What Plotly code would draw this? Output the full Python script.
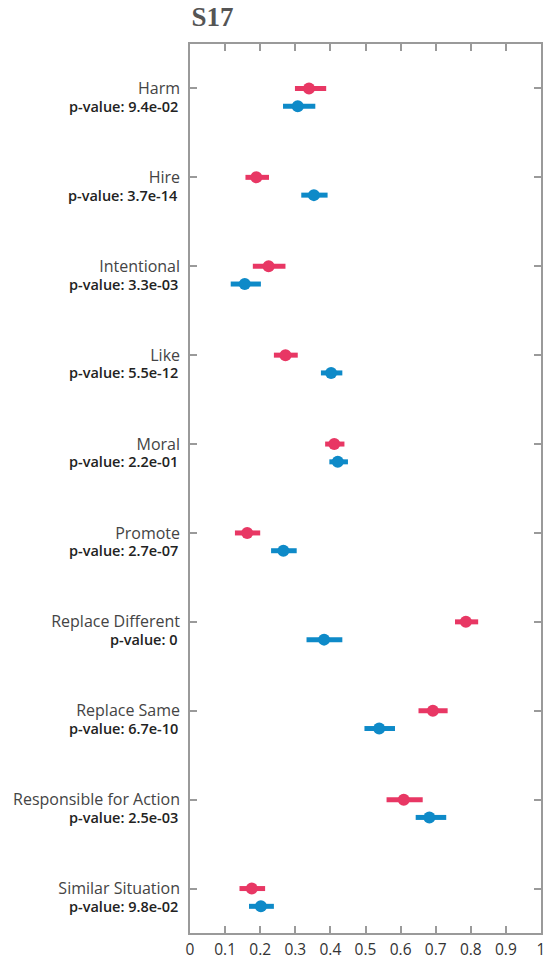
import plotly.graph_objects as go

categories = ["Harm", "Hire", "Intentional", "Like", "Moral", "Promote",
              "Replace Different", "Replace Same", "Responsible for Action",
              "Similar Situation"]
p_values = ["9.4e-02", "3.7e-14", "3.3e-03", "5.5e-12", "2.2e-01",
            "2.7e-07", "0", "6.7e-10", "2.5e-03", "9.8e-02"]

red_mean = [0.339, 0.189, 0.224, 0.272, 0.411, 0.163, 0.786, 0.692, 0.609, 0.176]
red_low = [0.299, 0.158, 0.179, 0.239, 0.385, 0.128, 0.755, 0.651, 0.560, 0.141]
red_high = [0.388, 0.225, 0.272, 0.307, 0.440, 0.200, 0.821, 0.734, 0.663, 0.214]

blue_mean = [0.307, 0.353, 0.156, 0.402, 0.421, 0.266, 0.382, 0.539, 0.682, 0.202]
blue_low = [0.265, 0.317, 0.116, 0.373, 0.397, 0.231, 0.332, 0.497, 0.643, 0.168]
blue_high = [0.357, 0.392, 0.202, 0.434, 0.450, 0.304, 0.434, 0.584, 0.730, 0.239]

x_ticks = [0, 0.1, 0.2, 0.3, 0.4, 0.5, 0.6, 0.7, 0.8, 0.9, 1]
x_ticktext = ["0", "0.1", "0.2", "0.3", "0.4", "0.5", "0.6", "0.7", "0.8", "0.9", "1"]

RED = "#E83764"
BLUE = "#0E8AC8"
OFFSET = 0.2

y_red = list(range(len(categories)))
y_blue = [i + OFFSET for i in y_red]

fig = go.Figure()


def add_series(means, lows, highs, ys, color):
    fig.add_trace(go.Scatter(
        x=means, y=ys, mode="markers",
        marker=dict(color=color, size=12, symbol="circle"),
        error_x=dict(type="data", symmetric=False,
                     array=[h - m for h, m in zip(highs, means)],
                     arrayminus=[m - l for m, l in zip(means, lows)],
                     color=color, thickness=5, width=0),
        showlegend=False, hoverinfo="x",
    ))


add_series(red_mean, red_low, red_high, y_red, RED)
add_series(blue_mean, blue_low, blue_high, y_blue, BLUE)

for i, p in enumerate(p_values):
    fig.add_annotation(
        x=0, xref="paper", y=i + OFFSET, yref="y",
        text=f"p-value: {p}", showarrow=False,
        xanchor="right", yanchor="middle", xshift=-10,
        font=dict(family="Open Sans", size=14.5, color="#222222", weight=600),
    )

fig.update_layout(
    width=547, height=961,
    margin=dict(l=190, r=6, t=44, b=28, autoexpand=False),
    paper_bgcolor="white", plot_bgcolor="white",
    title=dict(text="<b>S17</b>", x=0.004, xref="paper", xanchor="left",
               y=1 - 17 / 961, yref="container", yanchor="middle",
               font=dict(family="Liberation Serif", size=27, color="#555555")),
    xaxis=dict(range=[0, 1], tickvals=x_ticks, ticktext=x_ticktext,
               ticks="inside", ticklen=7, tickcolor="#9a9a9a", tickwidth=1.5,
               showline=True, linecolor="#9a9a9a", linewidth=1.5,
               mirror="allticks", showgrid=False, zeroline=False,
               automargin=False, ticklabeloverflow="allow",
               ticklabelstandoff=2,
               tickfont=dict(family="Open Sans", size=15.5, color="#333333")),
    yaxis=dict(range=[9.5, -0.5], tickvals=y_red, ticktext=categories,
               ticks="inside", ticklen=7, tickcolor="#9a9a9a", tickwidth=1.5,
               showline=True, linecolor="#9a9a9a", linewidth=1.5,
               mirror="allticks", showgrid=False, zeroline=False,
               automargin=False, ticklabelstandoff=5,
               tickfont=dict(family="Open Sans", size=16, color="#444444")),
)

fig.write_html(
    "out.html",
    config={"displayModeBar": False},
    post_script="document.body.style.margin='0';document.body.style.overflow='hidden';",
)
